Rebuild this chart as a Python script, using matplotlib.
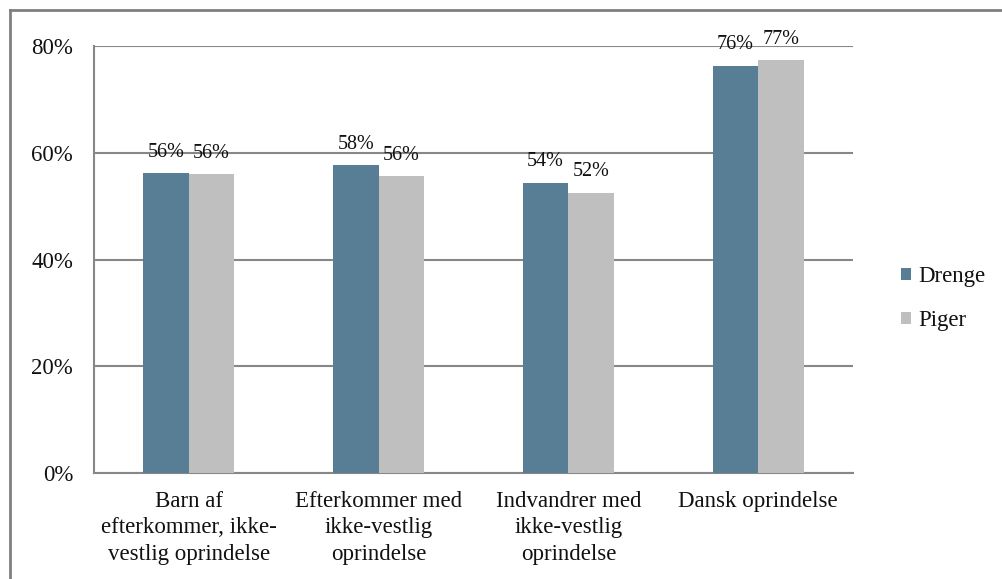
import matplotlib
matplotlib.use("Agg")
import matplotlib.pyplot as plt
from matplotlib.lines import Line2D
import numpy as np

categories = [
    "Barn af\nefterkommer, ikke-\nvestlig oprindelse",
    "Efterkommer med\nikke-vestlig\noprindelse",
    "Indvandrer med\nikke-vestlig\noprindelse",
    "Dansk oprindelse",
]
drenge = [56.2, 57.7, 54.4, 76.3]
piger = [56.0, 55.6, 52.5, 77.4]
series_names = ["Drenge", "Piger"]
y_ticks = [0, 20, 40, 60, 80]

plt.rcParams["font.family"] = ["Liberation Serif", "DejaVu Serif"]

W, H = 1002, 579
fig = plt.figure(figsize=(W / 100, H / 100), dpi=100)
ax = fig.add_axes([94 / W, 1 - 473 / H, (853 - 94) / W, (473 - 46) / H])

c_d = "#577e95"
c_p = "#bfbfbf"
grid_c = "#878787"
txt_c = "#111111"
bw = 0.24
x = np.arange(len(categories))

b1 = ax.bar(x - bw / 2, drenge, bw, color=c_d, label=series_names[0], zorder=3)
b2 = ax.bar(x + bw / 2, piger, bw, color=c_p, label=series_names[1], zorder=3)

for bars, vals in ((b1, drenge), (b2, piger)):
    for r, v in zip(bars, vals):
        ax.annotate(f"{v:.0f}%", (r.get_x() + r.get_width() / 2, v),
                    xytext=(0, 15), textcoords="offset points",
                    ha="center", va="center", fontsize=14.5, color=txt_c,
                    zorder=4)

ax.set_xlim(-0.5, len(categories) - 0.5)
ax.set_ylim(0, 80)
ax.set_yticks(y_ticks)
ax.set_yticklabels([f"{t}%" for t in y_ticks])
ax.set_xticks(x)
ax.set_xticklabels(categories, linespacing=1.33)
ax.tick_params(axis="both", length=0, labelsize=16.5, colors=txt_c)
ax.tick_params(axis="y", pad=15)
ax.tick_params(axis="x", pad=13)

ax.yaxis.grid(True, color=grid_c, linewidth=1.5, zorder=0)
for s in ("top", "right"):
    ax.spines[s].set_visible(False)
for s in ("left", "bottom"):
    ax.spines[s].set_color(grid_c)
    ax.spines[s].set_linewidth(1.5)

leg = ax.legend(loc="center left", bbox_to_anchor=(1.048, 0.408), frameon=False,
                fontsize=16.5, handlelength=0.45, handleheight=0.45,
                handletextpad=0.3, labelspacing=1.0, borderpad=0)
for t in leg.get_texts():
    t.set_color(txt_c)

# outer frame (left and top edges)
fig.add_artist(Line2D([9.5 / W, 9.5 / W], [0, 1 - 9.5 / H], transform=fig.transFigure,
                      color="#808080", linewidth=2))
fig.add_artist(Line2D([9.5 / W, 1], [1 - 9.5 / H, 1 - 9.5 / H], transform=fig.transFigure,
                      color="#808080", linewidth=2))

fig.savefig("out.png", dpi=100, facecolor="white")
